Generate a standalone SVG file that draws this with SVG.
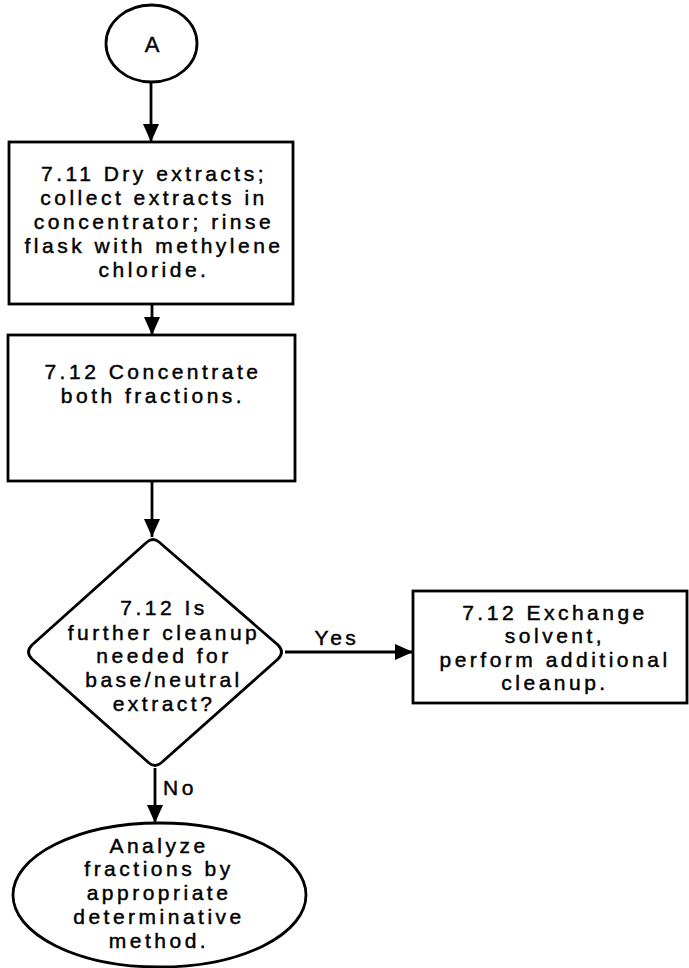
<svg xmlns="http://www.w3.org/2000/svg" width="689" height="968" viewBox="0 0 689 968">
  <style>
    .shape { fill: #fff; stroke: #000; stroke-width: 2.8; }
    .edge { fill: none; stroke: #000; stroke-width: 2.8; }
    text { font-family: "Liberation Sans", Arial, sans-serif; font-size: 21px; letter-spacing: 3.5px; fill: #000; text-anchor: middle; stroke: #000; stroke-width: 0.45; }
  </style>
  <defs>
    <marker id="arrow" viewBox="0 0 18 16" refX="18" refY="8" markerWidth="18" markerHeight="16" markerUnits="userSpaceOnUse" orient="auto">
      <path d="M0,0 L18,8 L0,16 Z" fill="#000"/>
    </marker>
  </defs>

  <!-- connectors -->
  <g id="connectors">
    <line class="edge" x1="151" y1="82" x2="151" y2="142" marker-end="url(#arrow)"/>
    <line class="edge" x1="152" y1="304" x2="152" y2="335" marker-end="url(#arrow)"/>
    <line class="edge" x1="152" y1="481" x2="152" y2="537" marker-end="url(#arrow)"/>
    <line class="edge" x1="285" y1="652" x2="413" y2="652" marker-end="url(#arrow)"/>
    <line class="edge" x1="155" y1="768" x2="155" y2="823" marker-end="url(#arrow)"/>
    <text x="337" y="645">Yes</text>
    <text x="180" y="795">No</text>
  </g>

  <!-- connector A -->
  <g id="start">
    <ellipse class="shape" cx="151.5" cy="43.5" rx="45.5" ry="38.5"/>
    <text x="152" y="52" style="letter-spacing:0;font-size:22px">A</text>
  </g>

  <!-- step 7.11 -->
  <g id="dry">
    <rect class="shape" x="9" y="142" width="284" height="162"/>
    <text x="154" y="181">7.11 Dry extracts;</text>
    <text x="154" y="205">collect extracts in</text>
    <text x="154" y="229">concentrator; rinse</text>
    <text x="154" y="253">flask with methylene</text>
    <text x="154" y="277">chloride.</text>
  </g>

  <!-- step 7.12 concentrate -->
  <g id="concentrate">
    <rect class="shape" x="8" y="335" width="287" height="146"/>
    <text x="153" y="379">7.12 Concentrate</text>
    <text x="153" y="403">both fractions.</text>
  </g>

  <!-- decision -->
  <g id="decision">
    <path class="shape" d="M147,542 Q153,537 159,542 L278,645 Q285,652 278,659 L161,763 Q155,768 149,763 L32,659 Q25,652 32,645 Z"/>
    <text x="164" y="615">7.12 Is</text>
    <text x="164" y="640">further cleanup</text>
    <text x="164" y="663">needed for</text>
    <text x="164" y="687">base/neutral</text>
    <text x="164" y="711">extract?</text>
  </g>

  <!-- step 7.12 exchange -->
  <g id="exchange">
    <rect class="shape" x="413" y="591" width="274" height="112"/>
    <text x="555" y="620">7.12 Exchange</text>
    <text x="555" y="643">solvent,</text>
    <text x="555" y="667">perform additional</text>
    <text x="555" y="690">cleanup.</text>
  </g>

  <!-- terminal -->
  <g id="analyze">
    <ellipse class="shape" cx="159.5" cy="895" rx="146.5" ry="72"/>
    <text x="159" y="853">Analyze</text>
    <text x="159" y="876">fractions by</text>
    <text x="159" y="900">appropriate</text>
    <text x="159" y="924">determinative</text>
    <text x="159" y="948">method.</text>
  </g>
</svg>
